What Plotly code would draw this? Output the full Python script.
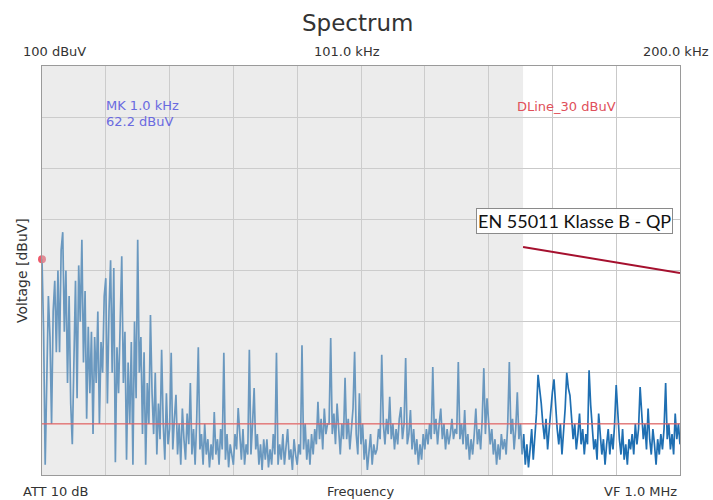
import numpy as np
import plotly.graph_objects as go

# ---- data ----
f_start_khz = 1.0
f_step_khz = 0.5
level_dbuv = [
    62.2, 48, 22, 40, 55, 47, 30, 52, 58, 44,
    60, 44, 64, 67.5, 48, 60, 38, 55, 34, 26,
    44, 58, 35, 61, 50, 66, 42, 56, 31, 49,
    36, 48, 28, 47, 38, 52, 30, 46, 40, 55,
    58.5, 34, 52, 62, 40, 60.5, 22.5, 45, 36, 50,
    62.8, 38, 48, 23, 42, 30, 46, 22, 50, 35,
    66, 40, 47, 28, 44, 22, 38, 30, 51.3, 36,
    28, 40, 24, 34, 27, 44.5, 30, 23, 36, 26,
    29, 43.9, 25, 31, 35.7, 24, 30, 22, 33, 27,
    23, 32, 26, 38, 24, 29, 22, 31, 45, 25,
    28, 22, 30, 24, 27, 21.5, 26, 23, 32.3, 24,
    27, 22, 29, 25, 43.9, 23, 28, 21.5, 26, 24,
    22, 28, 25, 33.1, 27, 23, 29, 22, 26, 24,
    44.5, 24, 30, 37, 25, 28, 22, 26, 21, 27,
    23, 27, 21.5, 25, 22, 28, 24, 43.9, 22, 26,
    23, 28, 22, 26, 29, 23, 25, 21, 27, 24,
    22, 26, 24, 45.4, 25, 30, 23, 27, 22, 28,
    24, 29, 26, 34.3, 27, 31, 25, 33, 28, 30,
    30, 46.8, 28, 32, 26, 34, 29, 24, 30, 27,
    39, 27, 31, 25, 29, 33, 44.1, 28, 24, 36,
    26, 30, 23, 27, 21, 25, 28, 22, 26, 24,
    25, 29, 27, 43.5, 30, 26, 31, 28, 35.3, 27,
    30, 25, 29, 26, 31, 33.3, 27, 30, 42.9, 26,
    28, 32.7, 25, 29, 24, 27, 22, 26, 23, 28,
    25, 29, 26, 30, 27, 41.1, 28, 31, 26, 30,
    33, 27, 30, 25, 29, 26, 28, 31, 27, 29,
    28, 42.1, 27, 30, 26, 32.7, 25, 28, 23, 27,
    24, 28, 33, 26, 29, 25, 31, 40.9, 28, 35,
    30, 26, 29, 24, 27, 22, 26, 23, 28, 25,
    27, 24, 30, 42.1, 28, 31, 25, 29, 36.2, 27,
    30, 24, 28, 22, 26, 21.5, 25, 29, 23, 27,
    32, 39.6, 37, 34, 30, 27, 31, 25, 29, 33,
    36.2, 38.7, 33, 29, 26, 30, 24, 28, 33, 40,
    37, 35.6, 31, 27, 30, 25, 28, 32, 26, 29,
    24, 28, 26, 40.5, 33.7, 29, 25, 27, 23, 32,
    28, 24, 27, 22, 26, 29, 24, 28, 25, 30,
    37.6, 32, 27, 24, 29, 23, 26, 22, 27, 25,
    28, 24, 30, 26, 29, 37.2, 31, 27, 30, 25,
    33, 27, 24, 29, 26, 22, 27, 24, 28, 25,
    29, 38, 27, 30, 25, 28, 24, 32, 27, 30,
    26,
]
freq_khz = f_start_khz + f_step_khz * np.arange(len(level_dbuv))

limit_freq_khz = [151.8, 201.0]
limit_dbuv = [64.6, 59.5]

display_line_dbuv = 30.0
marker_freq_khz = 1.0
marker_dbuv = 62.2
shaded_band_khz = [1.0, 151.8]

x_range = [1.0, 201.0]
y_range = [20.0, 100.0]

fig = go.Figure()

fig.add_trace(go.Scatter(
    x=freq_khz, y=level_dbuv, mode="lines",
    line=dict(color="#1f6fb2", width=1.7),
    hoverinfo="skip", showlegend=False))

fig.add_trace(go.Scatter(
    x=limit_freq_khz, y=limit_dbuv, mode="lines",
    line=dict(color="#a5102e", width=2),
    hoverinfo="skip", showlegend=False))

fig.add_shape(type="rect", xref="x", yref="y",
              x0=shaded_band_khz[0], x1=shaded_band_khz[1],
              y0=y_range[0], y1=y_range[1],
              fillcolor="rgba(210,210,210,0.42)", line=dict(width=0),
              layer="above")

# display line and marker drawn above the shaded band
fig.add_shape(type="line", xref="x", yref="y",
              x0=x_range[0], x1=x_range[1],
              y0=display_line_dbuv, y1=display_line_dbuv,
              line=dict(color="rgba(235,95,95,0.9)", width=1.3), layer="above")

fig.add_trace(go.Scatter(
    x=[marker_freq_khz], y=[marker_dbuv], mode="markers",
    marker=dict(color="rgba(235,60,80,0.85)", size=8, symbol="circle"),
    cliponaxis=False, hoverinfo="skip", showlegend=False))

grid = "#c9c9c9"
fig.update_xaxes(range=x_range, tick0=1, dtick=20, showticklabels=False,
                 ticks="", showgrid=True, gridcolor=grid, gridwidth=1,
                 showline=True, linecolor="#9a9a9a", linewidth=1, mirror=True,
                 zeroline=False)
fig.update_yaxes(range=y_range, tick0=20, dtick=10, showticklabels=False,
                 ticks="", showgrid=True, gridcolor=grid, gridwidth=1,
                 showline=True, linecolor="#9a9a9a", linewidth=1, mirror=True,
                 zeroline=False)

FONT = "DejaVu Sans, sans-serif"
lab = dict(family=FONT, size=13, color="#333333")
ann = []
def paper_x(px):
    return (px - 42) / 638.0
def paper_y(py):
    return (475 - py) / 409.0

ann.append(dict(text="Spectrum", x=paper_x(357), y=paper_y(23), xanchor="center",
                font=dict(family=FONT, size=23, color="#333333")))
ann.append(dict(text="100 dBuV", x=paper_x(21), y=paper_y(51), xanchor="left", font=lab))
ann.append(dict(text="101.0 kHz", x=paper_x(347), y=paper_y(51), xanchor="center", font=lab))
ann.append(dict(text="200.0 kHz", x=paper_x(711), y=paper_y(51), xanchor="right", font=lab))
ann.append(dict(text="ATT 10 dB", x=paper_x(21), y=paper_y(491), xanchor="left", font=lab))
ann.append(dict(text="Frequency", x=paper_x(360), y=paper_y(491), xanchor="center", font=lab))
ann.append(dict(text="VF 1.0 MHz", x=paper_x(679), y=paper_y(491), xanchor="right", font=lab))
ann.append(dict(text="Voltage [dBuV]", x=paper_x(22), y=paper_y(271), xanchor="center",
                textangle=-90, font=dict(family=FONT, size=14, color="#333333")))
mk = dict(family=FONT, size=13, color="#6a6ae0")
ann.append(dict(text="MK 1.0 kHz", x=paper_x(104), y=paper_y(105), xanchor="left", font=mk))
ann.append(dict(text="62.2 dBuV", x=paper_x(104), y=paper_y(121), xanchor="left", font=mk))
ann.append(dict(text="DLine_30 dBuV", x=paper_x(515), y=paper_y(106), xanchor="left",
                font=dict(family=FONT, size=13, color="#e0505a")))
ann.append(dict(text="EN 55011 Klasse B - QP", x=paper_x(574), y=paper_y(221), xanchor="center",
                font=dict(family="Lato, Open Sans, sans-serif", size=18, color="#111111"),
                bgcolor="rgba(255,255,255,0.95)", bordercolor="#8a8a8a", borderwidth=1, borderpad=1))
for a in ann:
    a.setdefault("xref", "paper")
    a.setdefault("yref", "paper")
    a.setdefault("showarrow", False)
    a.setdefault("yanchor", "middle")

fig.update_layout(
    width=713, height=500,
    margin=dict(l=42, r=33, t=66, b=25),
    paper_bgcolor="white", plot_bgcolor="white",
    annotations=ann, showlegend=False,
)

fig.write_html("out.html", config={"displayModeBar": False},
               post_script="document.body.style.margin='0px';document.body.style.overflow='hidden';")
